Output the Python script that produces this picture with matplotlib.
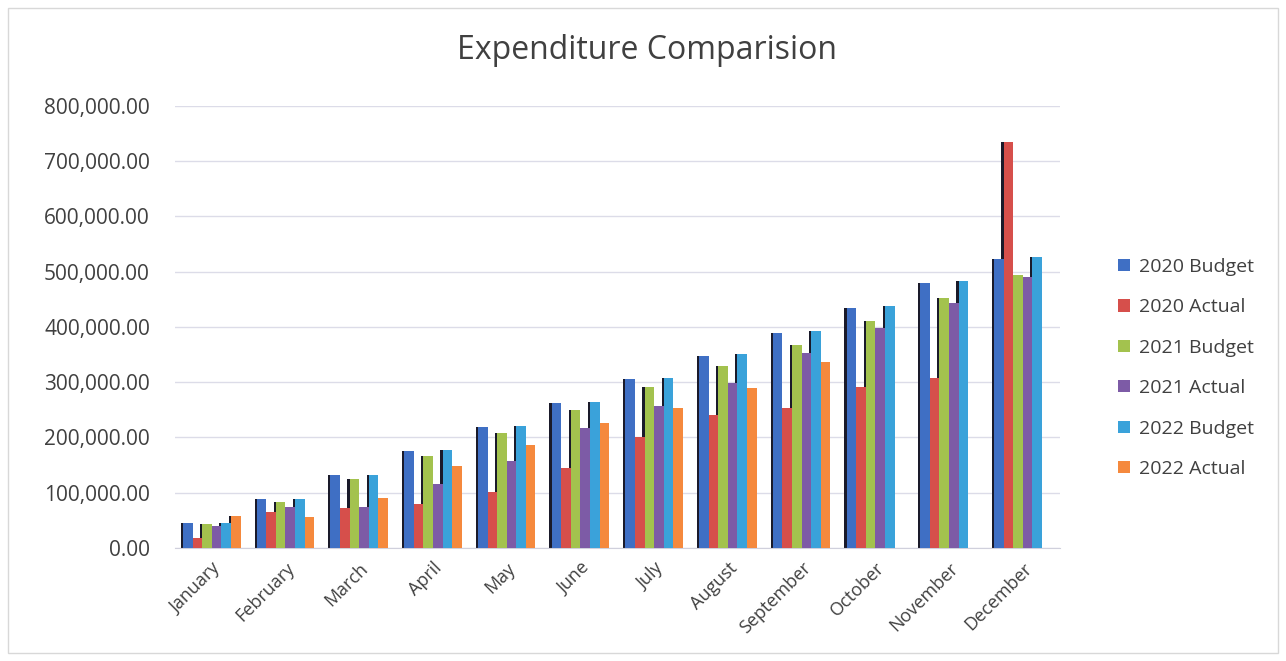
import matplotlib
matplotlib.use("Agg")
import matplotlib.pyplot as plt
import numpy as np
from matplotlib.ticker import FuncFormatter

months = ["January", "February", "March", "April", "May", "June", "July",
          "August", "September", "October", "November", "December"]
series_names = ["2020 Budget", "2020 Actual", "2021 Budget", "2021 Actual",
                "2022 Budget", "2022 Actual"]

budget_2020 = [45000, 89000, 132000, 176000, 219000, 262000, 306000, 347000, 389000, 434000, 479000, 522000]
actual_2020 = [18000, 65000, 72000, 80000, 101000, 145000, 201000, 241000, 253000, 292000, 307000, 735000]
budget_2021 = [43000, 83000, 125000, 167000, 208000, 250000, 291000, 330000, 368000, 411000, 453000, 494000]
actual_2021 = [40000, 74000, 74000, 116000, 157000, 217000, 257000, 299000, 353000, 398000, 444000, 491000]
budget_2022 = [45000, 89000, 132000, 178000, 221000, 264000, 308000, 351000, 393000, 438000, 483000, 526000]
actual_2022 = [58000, 56000, 90000, 148000, 186000, 226000, 253000, 290000, 337000, np.nan, np.nan, np.nan]

data = [budget_2020, actual_2020, budget_2021, actual_2021, budget_2022, actual_2022]
colors = ["#3F6FC4", "#D64F4B", "#A3C24E", "#7D5BA6", "#3AA2DA", "#F5893D"]

FONT = "Open Sans"
TXT = "#404040"

fig = plt.figure(figsize=(12.86, 6.61), dpi=100)
ax = fig.add_axes([0.136, 0.171, 0.688, 0.669])

x = np.arange(len(months))
w = 0.13
n = len(data)
offsets = (np.arange(n) - (n - 1) / 2) * w
shadow = 0.03

# dark side shadows (drawn first so neighbours cover them)
for i, vals in enumerate(data):
    ax.bar(x + offsets[i] - shadow, vals, width=w, color="#1a1a2a", zorder=2, linewidth=0)
for i, vals in enumerate(data):
    ax.bar(x + offsets[i], vals, width=w, color=colors[i], zorder=3,
           linewidth=0, label=series_names[i])

ax.set_xlim(-0.5, len(months) - 0.5)
ax.set_ylim(0, 800000)
ax.set_yticks(np.arange(0, 800001, 100000))
ax.yaxis.set_major_formatter(FuncFormatter(lambda v, p: f"{v:,.2f}"))
ax.set_xticks(x)
ax.set_xticklabels(months, rotation=45, ha="right", rotation_mode="anchor",
                   fontsize=13, color=TXT, family=FONT)
for lbl in ax.get_yticklabels():
    lbl.set_fontsize(15)
    lbl.set_color(TXT)
    lbl.set_family(FONT)
ax.tick_params(axis="x", length=0, pad=8)
ax.tick_params(axis="y", length=0, pad=18)
ax.grid(axis="y", color="#dcdce8", linewidth=1.0, zorder=0)
ax.set_axisbelow(True)
for s in ["top", "right", "left"]:
    ax.spines[s].set_visible(False)
ax.spines["bottom"].set_color("#d0d0dc")

fig.text(0.503, 0.924, "Expenditure Comparision", ha="center", va="center",
         fontsize=23, color=TXT, family=FONT)

leg = ax.legend(loc="center left", bbox_to_anchor=(1.046, 0.407), frameon=False,
                fontsize=14, handlelength=0.6, handleheight=0.6,
                labelspacing=1.15, handletextpad=0.5)
for t in leg.get_texts():
    t.set_color(TXT)
    t.set_family(FONT)

fig.patches.append(plt.Rectangle((0.006, 0.012), 0.988, 0.976, transform=fig.transFigure,
                                 fill=False, edgecolor="#d8d8d8", linewidth=1))

fig.savefig("out.png", dpi=100)
